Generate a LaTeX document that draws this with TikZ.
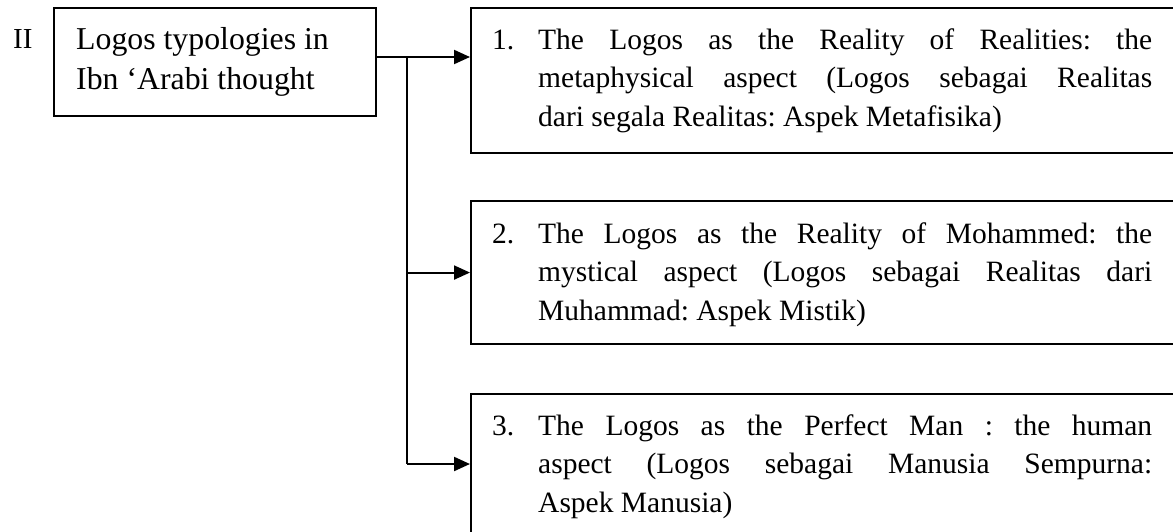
\documentclass[tikz,border=0pt]{standalone}
\usepackage{fontspec}
\setmainfont{Liberation Serif}
\usetikzlibrary{arrows.meta}
\tikzset{
  box/.style={draw=black, line width=2.1pt, rectangle, inner sep=0pt, anchor=north west},
  conn/.style={line width=2.1pt},
  arr/.style={line width=2.1pt, -{Triangle[length=16pt,width=14pt]}},
  txt/.style={anchor=base west, inner sep=0pt}
}
\newcommand{\itemtext}[2]{\parbox[t]{660pt}{\fontsize{29.5}{38.5}\selectfont\frenchspacing\hangindent=46pt\hangafter=1\noindent\makebox[46pt][l]{#1}#2}}
\begin{document}
\begin{tikzpicture}[x=1pt,y=-1pt]
\useasboundingbox (0,0) rectangle (1173,531);
\clip (0,0) rectangle (1173,531);
\fontsize{29}{38.5}\selectfont
% label
\node[txt] (num) at (13,48) {II};
% source box
\node[box, minimum width=322pt, minimum height=108pt] (src) at (53,7) {};
\node[txt] (srct) at (76,49) {\parbox[t]{290pt}{\fontsize{31.8}{40.5}\selectfont\raggedright Logos typologies in\\Ibn ‘Arabi thought}};
% target boxes
\node[box, minimum width=720pt, minimum height=145pt] (b1) at (470,7) {};
\node[box, minimum width=720pt, minimum height=143pt] (b2) at (470,200) {};
\node[box, minimum width=720pt, minimum height=160pt] (b3) at (470,393) {};
\node[txt] (t1) at (492,49) {\itemtext{1.}{The Logos as the Reality of Realities: the\linebreak metaphysical aspect (Logos sebagai Realitas\linebreak dari segala Realitas: Aspek Metafisika)}};
\node[txt] (t2) at (492,243) {\itemtext{2.}{The Logos as the Reality of Mohammed: the\linebreak mystical aspect (Logos sebagai Realitas dari\linebreak Muhammad: Aspek Mistik)}};
\node[txt] (t3) at (492,435) {\itemtext{3.}{The Logos as the Perfect Man : the human\linebreak aspect (Logos sebagai Manusia Sempurna:\linebreak Aspek Manusia)}};
% connectors
\coordinate (j) at (407,57);
\coordinate (a1) at (470,57);
\coordinate (a3) at (470,464);
\draw[conn] (src.east |- j) -- (j);
\draw[arr] (j) -- (a1);
\draw[conn] (j) -- (j |- a3);
\draw[arr] (j |- b2.west) -- (b2.west);
\draw[arr] (j |- a3) -- (a3);
\end{tikzpicture}
\end{document}
